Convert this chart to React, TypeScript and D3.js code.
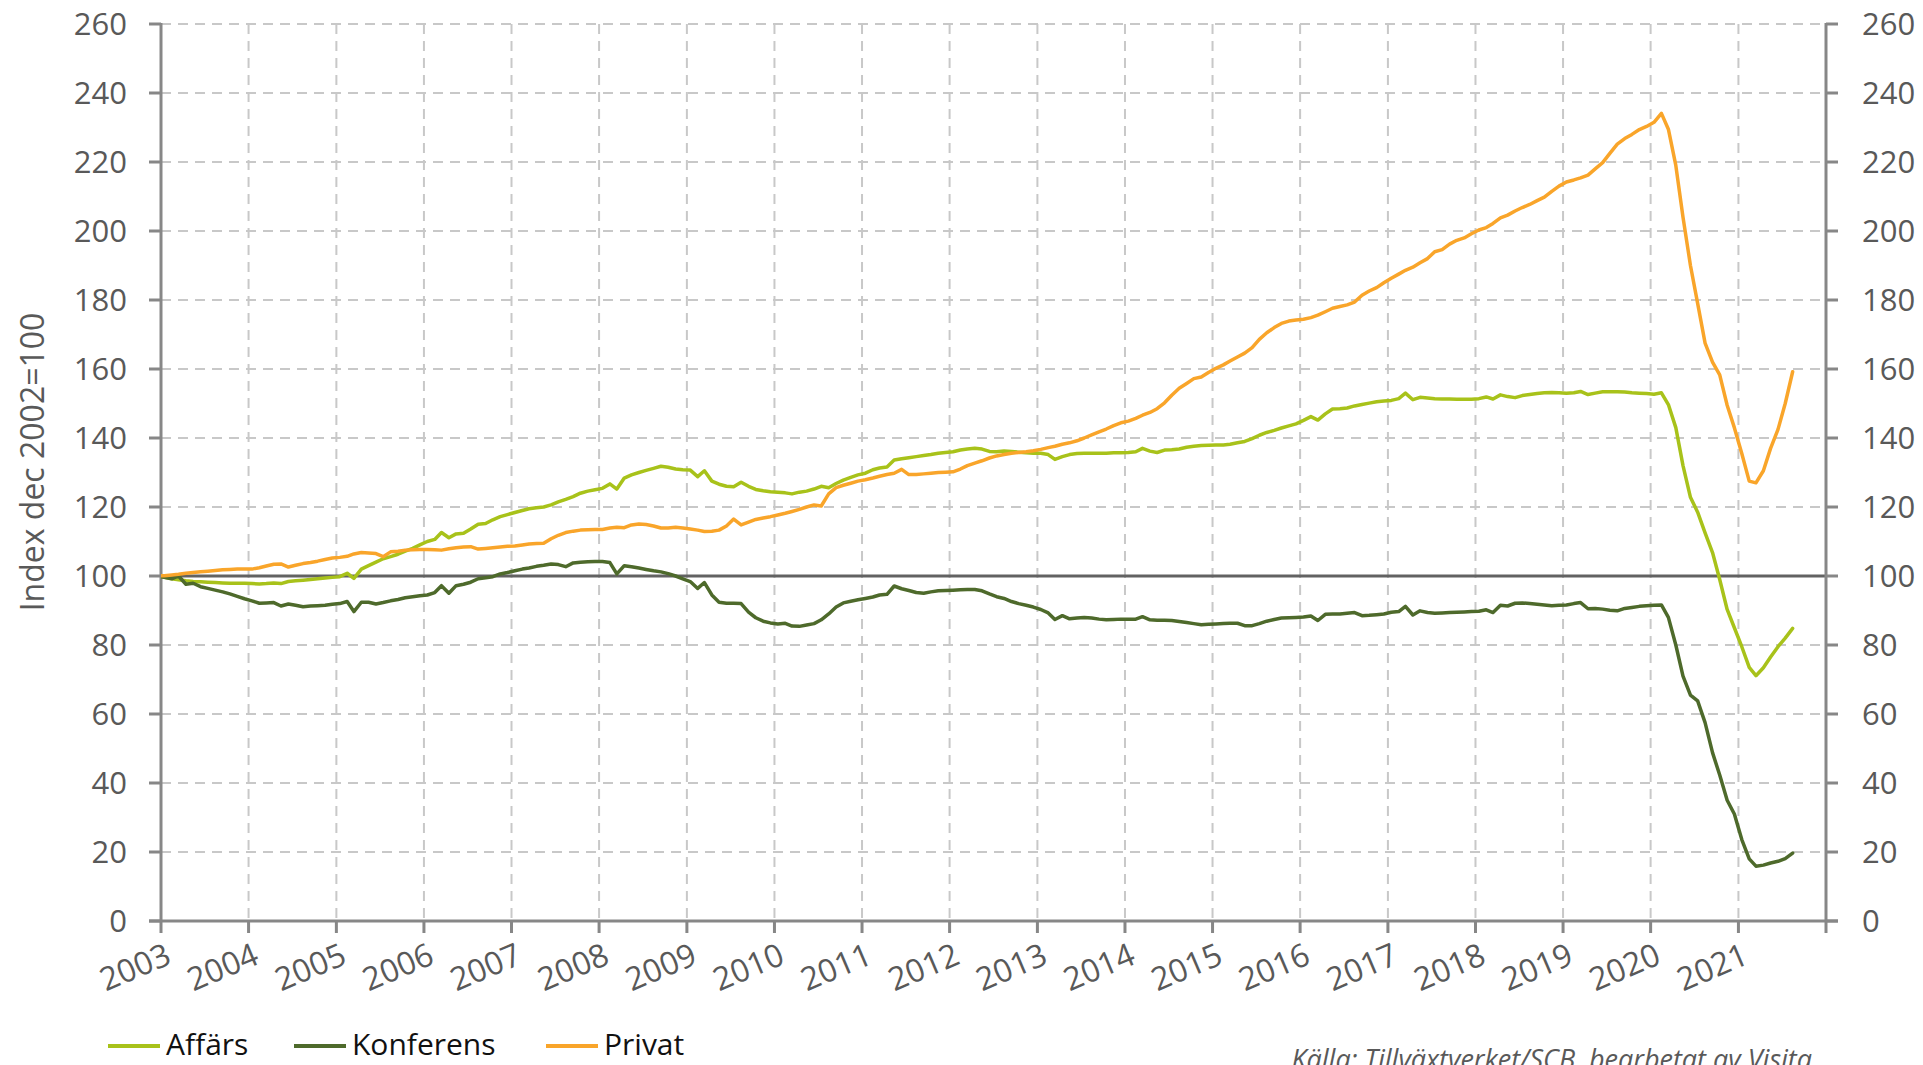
import React from "react";
import * as d3 from "d3";

// ---------- DATA ----------
// Monthly index values, Dec 2002 = 100, Dec 2002 ... Aug 2021 (225 months)
const affars: number[] = [
  100,
  // 2003
  99.6, 99.2, 98.9, 98.6, 98.4, 98.3, 98.2, 98.1, 98.0, 97.9, 97.9, 97.9,
  // 2004
  97.8, 97.7, 97.8, 98.0, 97.8, 98.4, 98.6, 98.8, 99.0, 99.2, 99.4, 99.6,
  // 2005
  99.8, 100.8, 99.3, 102.0, 103.0, 104.0, 105.0, 105.6, 106.3, 107.2, 108.0, 109.0,
  // 2006
  110.0, 110.6, 112.6, 111.1, 112.2, 112.4, 113.6, 115.0, 115.2, 116.3, 117.2, 117.8,
  // 2007
  118.4, 119.0, 119.5, 119.8, 120.0, 120.6, 121.5, 122.2, 123.0, 124.0, 124.6, 125.0,
  // 2008
  125.4, 126.7, 125.2, 128.4, 129.3, 130.0, 130.6, 131.2, 131.8, 131.5, 131.0, 130.8,
  // 2009
  130.7, 128.8, 130.5, 127.5, 126.6, 126.0, 125.9, 127.2, 126.0, 125.1, 124.7, 124.4,
  // 2010
  124.3, 124.1, 123.8, 124.3, 124.6, 125.2, 126.0, 125.6, 126.8, 127.8, 128.6, 129.3,
  // 2011
  129.8, 130.8, 131.3, 131.6, 133.6, 134.0, 134.3, 134.6, 134.9, 135.2, 135.6, 135.8,
  // 2012
  136.0, 136.5, 136.8, 137.0, 136.8, 136.1, 136.0, 136.2, 136.1, 135.9, 135.7, 135.6,
  // 2013
  135.6, 135.2, 133.8, 134.6, 135.2, 135.5, 135.6, 135.6, 135.6, 135.6, 135.7, 135.7,
  // 2014
  135.8, 136.0, 137.0, 136.2, 135.8, 136.5, 136.6, 136.8, 137.3, 137.6, 137.8, 137.9,
  // 2015
  138.0, 138.0, 138.2, 138.6, 139.0, 139.8, 140.8, 141.6, 142.2, 142.9, 143.5, 144.1,
  // 2016
  145.1, 146.2, 145.2, 147.0, 148.4, 148.5, 148.7, 149.3, 149.7, 150.1, 150.5, 150.7,
  // 2017
  150.9, 151.4, 153.0, 151.1, 151.8, 151.6, 151.4, 151.3, 151.3, 151.2, 151.2, 151.2,
  // 2018
  151.4, 151.9, 151.3, 152.5, 152.0, 151.7, 152.3, 152.6, 152.9, 153.1, 153.2, 153.1,
  // 2019
  153.0, 153.1, 153.5, 152.6, 153.0, 153.4, 153.4, 153.4, 153.3, 153.1, 153.0, 152.9,
  // 2020
  152.7, 153.1, 149.7, 143.0, 132.0, 122.8, 118.5, 112.5, 106.8, 99.0, 90.3, 85.0,
  // 2021
  79.5, 73.5, 71.1, 73.4, 76.5, 79.5, 82.0, 84.8,
];

const konferens: number[] = [
  100,
  // 2003
  99.6, 99.2, 100.0, 97.6, 97.9, 96.9, 96.4, 95.9, 95.4, 94.8, 94.1, 93.4,
  // 2004
  92.8, 92.1, 92.2, 92.3, 91.3, 91.9, 91.5, 91.1, 91.3, 91.4, 91.5, 91.8,
  // 2005
  92.0, 92.6, 89.7, 92.4, 92.4, 91.9, 92.3, 92.8, 93.2, 93.7, 94.0, 94.3,
  // 2006
  94.5, 95.2, 97.2, 95.0, 97.2, 97.6, 98.2, 99.2, 99.5, 99.8, 100.6, 101.0,
  // 2007
  101.5, 102.0, 102.3, 102.8, 103.1, 103.5, 103.3, 102.7, 103.8, 104.0, 104.1, 104.2,
  // 2008
  104.2, 103.9, 100.6, 103.0, 102.7, 102.3, 101.9, 101.5, 101.2, 100.7, 100.0, 99.2,
  // 2009
  98.4, 96.4, 98.1, 94.5, 92.4, 92.1, 92.1, 92.0, 89.5, 87.9, 86.9, 86.4,
  // 2010
  86.1, 86.3, 85.5, 85.4, 85.8, 86.2, 87.3, 89.0, 91.0, 92.2, 92.7, 93.1,
  // 2011
  93.5, 93.9, 94.5, 94.7, 97.1, 96.3, 95.8, 95.2, 95.0, 95.4, 95.7, 95.8,
  // 2012
  95.9, 96.0, 96.1, 96.1, 95.7, 94.8, 94.0, 93.5, 92.6, 92.0, 91.5, 91.0,
  // 2013
  90.3, 89.3, 87.4, 88.5, 87.6, 87.8, 88.0, 87.8, 87.5, 87.3, 87.4, 87.5,
  // 2014
  87.5, 87.5, 88.2, 87.3, 87.2, 87.2, 87.1, 86.8, 86.5, 86.2, 85.9, 86.0,
  // 2015
  86.1, 86.2, 86.3, 86.3, 85.6, 85.6, 86.2, 86.9, 87.4, 87.8, 87.9, 88.0,
  // 2016
  88.1, 88.4, 87.1, 88.9, 89.0, 89.0, 89.2, 89.4, 88.5, 88.6, 88.8, 89.0,
  // 2017
  89.5, 89.7, 91.2, 88.7, 89.9, 89.4, 89.2, 89.3, 89.4, 89.5, 89.6, 89.7,
  // 2018
  89.8, 90.2, 89.4, 91.5, 91.3, 92.1, 92.2, 92.0, 91.8, 91.6, 91.4, 91.5,
  // 2019
  91.6, 92.0, 92.3, 90.5, 90.6, 90.4, 90.1, 89.9, 90.6, 90.9, 91.2, 91.4,
  // 2020
  91.5, 91.6, 88.0, 80.0, 71.0, 65.5, 63.8, 57.5, 48.8, 42.3, 35.0, 31.0,
  // 2021
  23.6, 18.0, 15.9, 16.2, 16.8, 17.3, 18.1, 19.7,
];

const privat: number[] = [
  100,
  // 2003
  100.1, 100.3, 100.5, 100.8, 101.0, 101.2, 101.4, 101.6, 101.8, 101.9, 102.0, 102.0,
  // 2004
  102.0, 102.4, 102.9, 103.4, 103.5, 102.6, 103.1, 103.6, 103.9, 104.3, 104.8, 105.2,
  // 2005
  105.4, 105.7, 106.4, 106.8, 106.7, 106.5, 105.6, 107.0, 107.2, 107.5, 107.6, 107.7,
  // 2006
  107.7, 107.6, 107.5, 107.9, 108.2, 108.4, 108.5, 107.8, 108.0, 108.2, 108.4, 108.6,
  // 2007
  108.7, 109.0, 109.3, 109.4, 109.5, 110.8, 111.8, 112.6, 113.0, 113.3, 113.4, 113.5,
  // 2008
  113.5, 113.9, 114.1, 114.0, 114.8, 115.1, 114.9, 114.5, 113.9, 113.9, 114.1, 113.9,
  // 2009
  113.6, 113.3, 112.9, 113.0, 113.3, 114.5, 116.5, 114.8, 115.6, 116.4, 116.8, 117.2,
  // 2010
  117.7, 118.2, 118.7, 119.3, 120.0, 120.6, 120.3, 123.8, 125.6, 126.3, 126.9, 127.5,
  // 2011
  127.9, 128.4, 128.9, 129.4, 129.8, 130.9, 129.4, 129.4, 129.6, 129.8, 130.0, 130.1,
  // 2012
  130.2, 131.0, 132.0, 132.7, 133.4, 134.2, 134.8, 135.2, 135.6, 135.8, 136.0, 136.3,
  // 2013
  136.7, 137.2, 137.6, 138.2, 138.6, 139.2, 140.0, 140.9, 141.8, 142.6, 143.6, 144.4,
  // 2014
  144.9, 145.7, 146.6, 147.4, 148.5, 150.2, 152.4, 154.4, 155.8, 157.2, 157.7, 159.0,
  // 2015
  160.2, 161.2, 162.3, 163.5, 164.6, 166.2, 168.6, 170.5, 172.0, 173.2, 173.9, 174.2,
  // 2016
  174.4, 174.9, 175.6, 176.6, 177.6, 178.1, 178.6, 179.4, 181.4, 182.6, 183.6, 185.0,
  // 2017
  186.3, 187.5, 188.6, 189.5, 190.8, 192.0, 194.0, 194.6, 196.2, 197.3, 198.0, 199.2,
  // 2018
  200.3, 201.0, 202.2, 203.8, 204.6, 205.8, 206.8, 207.7, 208.8, 209.8, 211.5, 213.0,
  // 2019
  214.2, 214.8, 215.4, 216.2, 218.0, 219.8, 222.5, 225.2, 226.8, 228.0, 229.4, 230.3,
  // 2020
  231.5, 234.1, 229.5, 219.0, 204.0, 190.0, 179.0, 167.5, 162.0, 158.3, 149.5, 143.0,
  // 2021
  135.5, 127.5, 127.0, 130.5, 137.0, 142.5, 150.0, 159.2,
];

// Categories: one date per month (mid-month), Dec 2002 .. Aug 2021
const months: Date[] = affars.map((_, i) => new Date(2002, 11 + i, 15));

const yearLabels: number[] = [
  2003, 2004, 2005, 2006, 2007, 2008, 2009, 2010, 2011, 2012,
  2013, 2014, 2015, 2016, 2017, 2018, 2019, 2020, 2021,
];
const yearTicks: number[] = [...yearLabels, 2022];
const yTickValues: number[] = [0, 20, 40, 60, 80, 100, 120, 140, 160, 180, 200, 220, 240, 260];

const seriesNames = ["Affärs", "Konferens", "Privat"];
const seriesColors = ["#A8C21A", "#4E6A2B", "#F9A52A"];

// ---------- CHART ----------
const W = 1923;
const H = 1065;
const L = 161;
const R = 1826;
const T = 24;
const B = 921;
const FONT = "'Open Sans', 'Noto Sans', sans-serif";
const AXIS = "#878787";
const TXT = "#595959";

export default function App() {
  const x = d3
    .scaleTime()
    .domain([new Date(2003, 0, 1), new Date(2022, 0, 1)])
    .range([L, R]);
  const y = d3.scaleLinear().domain([0, 260]).range([B, T]);

  const line = d3
    .line<number>()
    .x((_, i) => x(months[i]))
    .y((d) => y(d));

  const series = [affars, konferens, privat];
  const drawOrder = [0, 1, 2];

  const legendX = [108, 294, 546];
  const legendY = 1044;

  return (
    <svg
      width={W}
      height={H}
      style={{ position: "absolute", left: 0, top: 0, background: "#fff" }}
      fontFamily={FONT}
    >
      <defs>
        <clipPath id="plot">
          <rect x={L} y={0} width={R - L} height={B} />
        </clipPath>
      </defs>
      <rect x={0} y={0} width={W} height={H} fill="#fff" />

      {/* horizontal dashed grid */}
      {yTickValues
        .filter((v) => v !== 0 && v !== 100)
        .map((v) => (
          <line
            key={"hg" + v}
            x1={L}
            x2={R}
            y1={y(v)}
            y2={y(v)}
            stroke="#C8C8C8"
            strokeWidth={2}
            strokeDasharray="10 7"
          />
        ))}
      {/* vertical dashed grid */}
      {yearTicks
        .filter((yr) => yr !== 2003 && yr !== 2022)
        .map((yr) => (
          <line
            key={"vg" + yr}
            x1={x(new Date(yr, 0, 1))}
            x2={x(new Date(yr, 0, 1))}
            y1={T}
            y2={B}
            stroke="#C8C8C8"
            strokeWidth={2}
            strokeDasharray="10 7"
          />
        ))}

      {/* 100 reference line */}
      <line x1={L} x2={R} y1={y(100)} y2={y(100)} stroke="#626262" strokeWidth={3} />

      {/* axes */}
      <line x1={L} x2={L} y1={T - 1} y2={B} stroke={AXIS} strokeWidth={3} />
      <line x1={R} x2={R} y1={T - 1} y2={B} stroke={AXIS} strokeWidth={3} />
      <line x1={L - 12} x2={R + 12} y1={B} y2={B} stroke={AXIS} strokeWidth={3} />
      {yTickValues.map((v) => (
        <g key={"yt" + v}>
          <line x1={L - 12} x2={L} y1={y(v)} y2={y(v)} stroke={AXIS} strokeWidth={3} />
          <line x1={R} x2={R + 12} y1={y(v)} y2={y(v)} stroke={AXIS} strokeWidth={3} />
          <text
            x={127}
            y={y(v)}
            dy="0.36em"
            textAnchor="end"
            fontSize={31}
            fill={TXT}
          >
            {v}
          </text>
          <text x={1862} y={y(v)} dy="0.36em" textAnchor="start" fontSize={31} fill={TXT}>
            {v}
          </text>
        </g>
      ))}
      {yearTicks.map((yr) => (
        <line
          key={"xt" + yr}
          x1={x(new Date(yr, 0, 1))}
          x2={x(new Date(yr, 0, 1))}
          y1={B}
          y2={B + 12}
          stroke={AXIS}
          strokeWidth={3}
        />
      ))}
      {yearLabels.map((yr) => {
        const px = x(new Date(yr, 0, 1)) + 12;
        const py = 963;
        return (
          <text
            key={"xl" + yr}
            x={px}
            y={py}
            textAnchor="end"
            fontSize={32}
            fill={TXT}
            transform={`rotate(-23 ${px} ${py})`}
          >
            {yr}
          </text>
        );
      })}

      {/* y axis title */}
      <text
        transform={`translate(32,462) rotate(-90)`}
        textAnchor="middle"
        dy="0.36em"
        fontSize={32}
        fill={TXT}
      >
        Index dec 2002=100
      </text>

      {/* series */}
      <g clipPath="url(#plot)">
        {drawOrder.map((si) => (
          <path
            key={"s" + si}
            d={line(series[si]) || ""}
            fill="none"
            stroke={seriesColors[si]}
            strokeWidth={3.5}
            strokeLinejoin="round"
            strokeLinecap="round"
          />
        ))}
      </g>

      {/* legend */}
      {seriesNames.map((n, i) => (
        <g key={"lg" + n}>
          <line
            x1={legendX[i]}
            x2={legendX[i] + 52}
            y1={legendY + 2}
            y2={legendY + 2}
            stroke={seriesColors[i]}
            strokeWidth={4}
          />
          <text x={legendX[i] + 58} y={legendY} dy="0.36em" fontSize={30} fill="#111">
            {n}
          </text>
        </g>
      ))}

      {/* source */}
      <text
        x={1812}
        y={1069}
        textAnchor="end"
        fontSize={27}
        fontStyle="italic"
        fill={TXT}
      >
        Källa: Tillväxtverket/SCB, bearbetat av Visita
      </text>
    </svg>
  );
}
